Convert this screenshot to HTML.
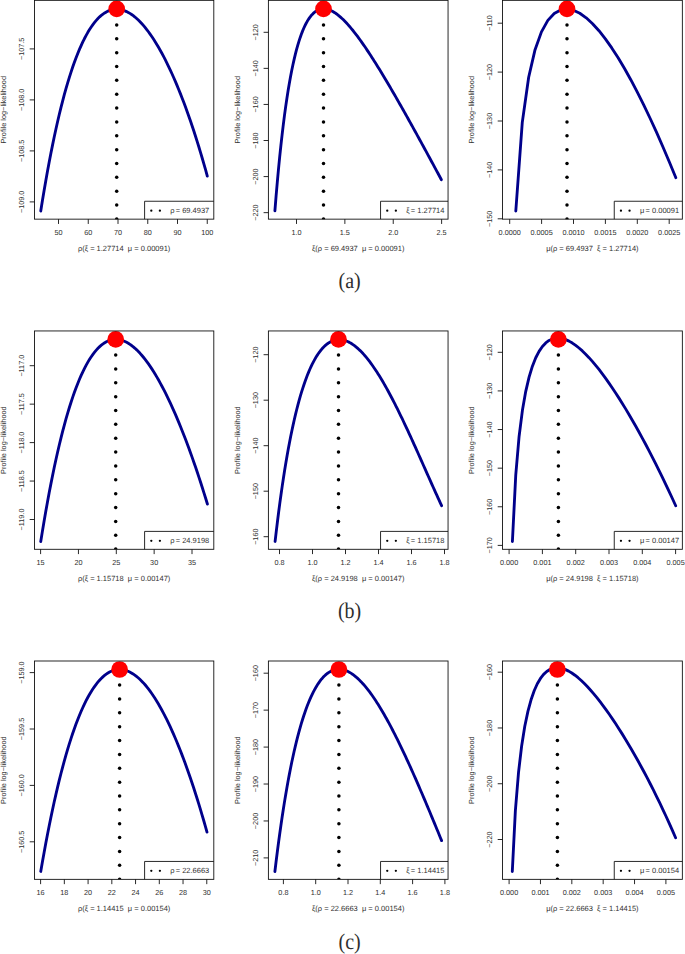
<!DOCTYPE html>
<html><head><meta charset="utf-8"><title>Profile log-likelihood</title>
<style>
html,body{margin:0;padding:0;background:#fff;}
body{width:685px;height:954px;overflow:hidden;font-family:"Liberation Sans",sans-serif;}
svg{display:block;}
.ax{stroke:#111;stroke-width:0.9;fill:none;}
.t{font-family:"Liberation Sans",sans-serif;font-size:7.5px;fill:#303030;text-rendering:geometricPrecision;}
.k{font-size:7.25px;}
.cap{font-family:"Liberation Serif",serif;font-size:20px;fill:#2e2e2e;text-rendering:geometricPrecision;}
.cv{stroke:#00008b;stroke-width:2.85;fill:none;stroke-linecap:round;stroke-linejoin:round;}
</style></head><body>
<svg width="685" height="954" viewBox="0 0 685 954">
<rect x="0" y="0" width="685" height="954" fill="#fff"/>

<g>
<path class="cv" d="M40.75 211.01 L42.43 200.56 L44.11 190.46 L45.80 180.71 L47.48 171.31 L49.16 162.25 L50.84 153.51 L52.53 145.10 L54.21 137.00 L55.89 129.21 L57.57 121.73 L59.26 114.54 L60.94 107.65 L62.62 101.04 L64.30 94.71 L65.98 88.66 L67.67 82.87 L69.35 77.35 L71.03 72.08 L72.71 67.06 L74.40 62.29 L76.08 57.76 L77.76 53.46 L79.44 49.40 L81.13 45.56 L82.81 41.94 L84.49 38.53 L86.17 35.34 L87.86 32.35 L89.54 29.57 L91.22 26.98 L92.90 24.59 L94.58 22.38 L96.27 20.36 L97.95 18.52 L99.63 16.86 L101.31 15.37 L103.00 14.06 L104.68 12.90 L106.36 11.91 L108.04 11.08 L109.73 10.41 L111.41 9.88 L113.09 9.51 L114.77 9.28 L116.45 9.20 L118.14 9.26 L119.82 9.45 L121.50 9.79 L123.18 10.25 L124.87 10.84 L126.55 11.57 L128.23 12.42 L129.91 13.39 L131.60 14.48 L133.28 15.70 L134.96 17.03 L136.64 18.48 L138.32 20.04 L140.01 21.72 L141.69 23.51 L143.37 25.41 L145.05 27.41 L146.74 29.53 L148.42 31.75 L150.10 34.08 L151.78 36.52 L153.47 39.05 L155.15 41.70 L156.83 44.44 L158.51 47.29 L160.19 50.24 L161.88 53.29 L163.56 56.45 L165.24 59.70 L166.92 63.06 L168.61 66.52 L170.29 70.08 L171.97 73.75 L173.65 77.52 L175.34 81.39 L177.02 85.37 L178.70 89.45 L180.38 93.63 L182.07 97.93 L183.75 102.33 L185.43 106.84 L187.11 111.46 L188.79 116.19 L190.48 121.03 L192.16 125.99 L193.84 131.06 L195.52 136.26 L197.21 141.57 L198.89 147.00 L200.57 152.55 L202.25 158.23 L203.94 164.04 L205.62 169.98 L207.30 176.05"/>
<clipPath id="c00"><rect x="34.50" y="0.35" width="179.30" height="218.80"/></clipPath><g clip-path="url(#c00)">
<circle cx="116.70" cy="218.95" r="1.75" fill="#000"/>
<circle cx="116.70" cy="205.09" r="1.75" fill="#000"/>
<circle cx="116.70" cy="191.23" r="1.75" fill="#000"/>
<circle cx="116.70" cy="177.37" r="1.75" fill="#000"/>
<circle cx="116.70" cy="163.51" r="1.75" fill="#000"/>
<circle cx="116.70" cy="149.65" r="1.75" fill="#000"/>
<circle cx="116.70" cy="135.79" r="1.75" fill="#000"/>
<circle cx="116.70" cy="121.93" r="1.75" fill="#000"/>
<circle cx="116.70" cy="108.07" r="1.75" fill="#000"/>
<circle cx="116.70" cy="94.21" r="1.75" fill="#000"/>
<circle cx="116.70" cy="80.35" r="1.75" fill="#000"/>
<circle cx="116.70" cy="66.49" r="1.75" fill="#000"/>
<circle cx="116.70" cy="52.63" r="1.75" fill="#000"/>
<circle cx="116.70" cy="38.77" r="1.75" fill="#000"/>
<circle cx="116.70" cy="24.91" r="1.75" fill="#000"/>
</g>
<circle cx="116.70" cy="8.85" r="8.35" fill="#ff0000"/>
<rect x="144.60" y="201.25" width="69.20" height="17.90" fill="#fff"/>
<path class="ax" d="M144.60 219.15 V201.25 H213.80"/>
<circle cx="151.30" cy="210.65" r="1.15" fill="#000"/><circle cx="159.90" cy="210.65" r="1.15" fill="#000"/>
<text class="t" x="209.30" y="212.50" text-anchor="end"><tspan>ρ</tspan><tspan dx="1.3">= 69.4937</tspan></text>
<rect class="ax" x="34.50" y="0.35" width="179.30" height="218.80"/>
<path class="ax" d="M58.50 219.15 v4.8"/>
<text class="t k" x="58.50" y="235.15" text-anchor="middle">50</text>
<path class="ax" d="M88.25 219.15 v4.8"/>
<text class="t k" x="88.25" y="235.15" text-anchor="middle">60</text>
<path class="ax" d="M118.00 219.15 v4.8"/>
<text class="t k" x="118.00" y="235.15" text-anchor="middle">70</text>
<path class="ax" d="M147.75 219.15 v4.8"/>
<text class="t k" x="147.75" y="235.15" text-anchor="middle">80</text>
<path class="ax" d="M177.50 219.15 v4.8"/>
<text class="t k" x="177.50" y="235.15" text-anchor="middle">90</text>
<path class="ax" d="M207.25 219.15 v4.8"/>
<text class="t k" x="207.25" y="235.15" text-anchor="middle">100</text>
<path class="ax" d="M34.50 48.90 h-4.8"/>
<text class="t k" transform="translate(24.10 48.90) rotate(-90)" text-anchor="middle">−107.5</text>
<path class="ax" d="M34.50 99.90 h-4.8"/>
<text class="t k" transform="translate(24.10 99.90) rotate(-90)" text-anchor="middle">−108.0</text>
<path class="ax" d="M34.50 150.90 h-4.8"/>
<text class="t k" transform="translate(24.10 150.90) rotate(-90)" text-anchor="middle">−108.5</text>
<path class="ax" d="M34.50 201.90 h-4.8"/>
<text class="t k" transform="translate(24.10 201.90) rotate(-90)" text-anchor="middle">−109.0</text>
<text class="t" x="124.15" y="251.15" text-anchor="middle" xml:space="preserve">ρ(ξ = 1.27714  μ = 0.00091)</text>
<text class="t" style="font-size:7.35px" transform="translate(6.20 109.75) rotate(-90)" text-anchor="middle">Profile log−likelihood</text>
</g>
<g>
<path class="cv" d="M274.90 210.76 L276.10 195.96 L277.30 182.10 L278.49 169.10 L279.69 156.92 L280.89 145.51 L282.09 134.82 L283.28 124.81 L284.48 115.44 L285.68 106.68 L286.88 98.49 L288.08 90.83 L289.27 83.67 L290.47 77.00 L291.67 70.77 L292.87 64.97 L294.07 59.58 L295.26 54.56 L296.46 49.91 L297.66 45.59 L298.86 41.60 L300.05 37.91 L301.25 34.51 L302.45 31.38 L303.65 28.52 L304.85 25.90 L306.04 23.51 L307.24 21.34 L308.44 19.38 L309.64 17.62 L310.84 16.05 L312.03 14.66 L313.23 13.44 L314.43 12.38 L315.63 11.47 L316.82 10.71 L318.02 10.09 L319.22 9.60 L320.42 9.24 L321.62 8.99 L322.81 8.86 L324.01 8.84 L325.21 8.92 L326.41 9.09 L327.61 9.36 L328.80 9.72 L330.00 10.16 L331.20 10.68 L332.40 11.28 L333.59 11.95 L334.79 12.69 L335.99 13.50 L337.19 14.37 L338.39 15.30 L339.58 16.29 L340.78 17.33 L341.98 18.43 L343.18 19.57 L344.37 20.76 L345.57 22.00 L346.77 23.28 L347.97 24.60 L349.17 25.97 L350.36 27.37 L351.56 28.80 L352.76 30.27 L353.96 31.77 L355.16 33.31 L356.35 34.87 L357.55 36.46 L358.75 38.08 L359.95 39.73 L361.14 41.40 L362.34 43.09 L363.54 44.81 L364.74 46.55 L365.94 48.31 L367.13 50.10 L368.33 51.90 L369.53 53.72 L370.73 55.55 L371.93 57.41 L373.12 59.28 L374.32 61.16 L375.52 63.06 L376.72 64.98 L377.91 66.91 L379.11 68.85 L380.31 70.80 L381.51 72.77 L382.71 74.75 L383.90 76.74 L385.10 78.74 L386.30 80.75 L387.50 82.77 L388.69 84.80 L389.89 86.84 L391.09 88.88 L392.29 90.94 L393.49 93.01 L394.68 95.08 L395.88 97.16 L397.08 99.24 L398.28 101.34 L399.48 103.44 L400.67 105.55 L401.87 107.66 L403.07 109.78 L404.27 111.91 L405.46 114.04 L406.66 116.17 L407.86 118.31 L409.06 120.46 L410.26 122.61 L411.45 124.77 L412.65 126.93 L413.85 129.09 L415.05 131.26 L416.25 133.43 L417.44 135.61 L418.64 137.79 L419.84 139.97 L421.04 142.16 L422.23 144.35 L423.43 146.54 L424.63 148.74 L425.83 150.93 L427.03 153.14 L428.22 155.34 L429.42 157.55 L430.62 159.75 L431.82 161.96 L433.02 164.18 L434.21 166.39 L435.41 168.61 L436.61 170.83 L437.81 173.05 L439.00 175.27 L440.20 177.49 L441.40 179.71"/>
<clipPath id="c01"><rect x="268.40" y="0.35" width="179.65" height="218.80"/></clipPath><g clip-path="url(#c01)">
<circle cx="323.50" cy="218.95" r="1.75" fill="#000"/>
<circle cx="323.50" cy="205.09" r="1.75" fill="#000"/>
<circle cx="323.50" cy="191.23" r="1.75" fill="#000"/>
<circle cx="323.50" cy="177.37" r="1.75" fill="#000"/>
<circle cx="323.50" cy="163.51" r="1.75" fill="#000"/>
<circle cx="323.50" cy="149.65" r="1.75" fill="#000"/>
<circle cx="323.50" cy="135.79" r="1.75" fill="#000"/>
<circle cx="323.50" cy="121.93" r="1.75" fill="#000"/>
<circle cx="323.50" cy="108.07" r="1.75" fill="#000"/>
<circle cx="323.50" cy="94.21" r="1.75" fill="#000"/>
<circle cx="323.50" cy="80.35" r="1.75" fill="#000"/>
<circle cx="323.50" cy="66.49" r="1.75" fill="#000"/>
<circle cx="323.50" cy="52.63" r="1.75" fill="#000"/>
<circle cx="323.50" cy="38.77" r="1.75" fill="#000"/>
<circle cx="323.50" cy="24.91" r="1.75" fill="#000"/>
</g>
<circle cx="323.50" cy="8.85" r="8.35" fill="#ff0000"/>
<rect x="380.55" y="201.25" width="67.50" height="17.90" fill="#fff"/>
<path class="ax" d="M380.55 219.15 V201.25 H448.05"/>
<circle cx="387.25" cy="210.65" r="1.15" fill="#000"/><circle cx="395.85" cy="210.65" r="1.15" fill="#000"/>
<text class="t" x="444.45" y="212.50" text-anchor="end"><tspan>ξ</tspan><tspan dx="1.3">= 1.27714</tspan></text>
<rect class="ax" x="268.40" y="0.35" width="179.65" height="218.80"/>
<path class="ax" d="M296.50 219.15 v4.8"/>
<text class="t k" x="296.50" y="235.15" text-anchor="middle">1.0</text>
<path class="ax" d="M344.87 219.15 v4.8"/>
<text class="t k" x="344.87" y="235.15" text-anchor="middle">1.5</text>
<path class="ax" d="M393.24 219.15 v4.8"/>
<text class="t k" x="393.24" y="235.15" text-anchor="middle">2.0</text>
<path class="ax" d="M441.61 219.15 v4.8"/>
<text class="t k" x="441.61" y="235.15" text-anchor="middle">2.5</text>
<path class="ax" d="M268.40 32.30 h-4.8"/>
<text class="t k" transform="translate(258.00 32.30) rotate(-90)" text-anchor="middle">−120</text>
<path class="ax" d="M268.40 68.37 h-4.8"/>
<text class="t k" transform="translate(258.00 68.37) rotate(-90)" text-anchor="middle">−140</text>
<path class="ax" d="M268.40 104.44 h-4.8"/>
<text class="t k" transform="translate(258.00 104.44) rotate(-90)" text-anchor="middle">−160</text>
<path class="ax" d="M268.40 140.51 h-4.8"/>
<text class="t k" transform="translate(258.00 140.51) rotate(-90)" text-anchor="middle">−180</text>
<path class="ax" d="M268.40 176.58 h-4.8"/>
<text class="t k" transform="translate(258.00 176.58) rotate(-90)" text-anchor="middle">−200</text>
<path class="ax" d="M268.40 212.65 h-4.8"/>
<text class="t k" transform="translate(258.00 212.65) rotate(-90)" text-anchor="middle">−220</text>
<text class="t" x="358.22" y="251.15" text-anchor="middle" xml:space="preserve">ξ(ρ = 69.4937  μ = 0.00091)</text>
<text class="t" style="font-size:7.35px" transform="translate(240.10 109.75) rotate(-90)" text-anchor="middle">Profile log−likelihood</text>
</g>
<g>
<path class="cv" d="M515.80 210.99 L522.28 122.36 L528.67 77.26 L535.06 49.66 L541.45 31.86 L547.84 20.41 L554.23 13.46 L560.62 9.89 L567.01 8.97 L573.40 10.20 L579.79 13.23 L586.18 17.79 L592.57 23.68 L598.96 30.74 L605.35 38.85 L611.74 47.90 L618.13 57.81 L624.52 68.52 L630.91 79.96 L637.30 92.09 L643.69 104.86 L650.08 118.24 L656.47 132.20 L662.86 146.70 L669.25 161.74 L675.85 177.79"/>
<clipPath id="c02"><rect x="502.50" y="0.35" width="179.85" height="218.80"/></clipPath><g clip-path="url(#c02)">
<circle cx="567.00" cy="218.95" r="1.75" fill="#000"/>
<circle cx="567.00" cy="205.09" r="1.75" fill="#000"/>
<circle cx="567.00" cy="191.23" r="1.75" fill="#000"/>
<circle cx="567.00" cy="177.37" r="1.75" fill="#000"/>
<circle cx="567.00" cy="163.51" r="1.75" fill="#000"/>
<circle cx="567.00" cy="149.65" r="1.75" fill="#000"/>
<circle cx="567.00" cy="135.79" r="1.75" fill="#000"/>
<circle cx="567.00" cy="121.93" r="1.75" fill="#000"/>
<circle cx="567.00" cy="108.07" r="1.75" fill="#000"/>
<circle cx="567.00" cy="94.21" r="1.75" fill="#000"/>
<circle cx="567.00" cy="80.35" r="1.75" fill="#000"/>
<circle cx="567.00" cy="66.49" r="1.75" fill="#000"/>
<circle cx="567.00" cy="52.63" r="1.75" fill="#000"/>
<circle cx="567.00" cy="38.77" r="1.75" fill="#000"/>
<circle cx="567.00" cy="24.91" r="1.75" fill="#000"/>
</g>
<circle cx="567.00" cy="8.85" r="8.35" fill="#ff0000"/>
<rect x="614.25" y="201.25" width="68.10" height="17.90" fill="#fff"/>
<path class="ax" d="M614.25 219.15 V201.25 H682.35"/>
<circle cx="620.95" cy="210.65" r="1.15" fill="#000"/><circle cx="629.55" cy="210.65" r="1.15" fill="#000"/>
<text class="t" x="679.15" y="212.50" text-anchor="end"><tspan>μ</tspan><tspan dx="1.3">= 0.00091</tspan></text>
<rect class="ax" x="502.50" y="0.35" width="179.85" height="218.80"/>
<path class="ax" d="M509.70 219.15 v4.8"/>
<text class="t k" x="509.70" y="235.15" text-anchor="middle">0.0000</text>
<path class="ax" d="M541.60 219.15 v4.8"/>
<text class="t k" x="541.60" y="235.15" text-anchor="middle">0.0005</text>
<path class="ax" d="M573.50 219.15 v4.8"/>
<text class="t k" x="573.50" y="235.15" text-anchor="middle">0.0010</text>
<path class="ax" d="M605.40 219.15 v4.8"/>
<text class="t k" x="605.40" y="235.15" text-anchor="middle">0.0015</text>
<path class="ax" d="M637.30 219.15 v4.8"/>
<text class="t k" x="637.30" y="235.15" text-anchor="middle">0.0020</text>
<path class="ax" d="M669.20 219.15 v4.8"/>
<text class="t k" x="669.20" y="235.15" text-anchor="middle">0.0025</text>
<path class="ax" d="M502.50 23.20 h-4.8"/>
<text class="t k" transform="translate(492.10 23.20) rotate(-90)" text-anchor="middle">−110</text>
<path class="ax" d="M502.50 72.10 h-4.8"/>
<text class="t k" transform="translate(492.10 72.10) rotate(-90)" text-anchor="middle">−120</text>
<path class="ax" d="M502.50 121.00 h-4.8"/>
<text class="t k" transform="translate(492.10 121.00) rotate(-90)" text-anchor="middle">−130</text>
<path class="ax" d="M502.50 169.90 h-4.8"/>
<text class="t k" transform="translate(492.10 169.90) rotate(-90)" text-anchor="middle">−140</text>
<path class="ax" d="M502.50 218.80 h-4.8"/>
<text class="t k" transform="translate(492.10 218.80) rotate(-90)" text-anchor="middle">−150</text>
<text class="t" x="592.42" y="251.15" text-anchor="middle" xml:space="preserve">μ(ρ = 69.4937  ξ = 1.27714)</text>
<text class="t" style="font-size:7.35px" transform="translate(474.20 109.75) rotate(-90)" text-anchor="middle">Profile log−likelihood</text>
</g>
<g>
<path class="cv" d="M40.75 541.54 L42.43 531.12 L44.12 521.05 L45.80 511.32 L47.48 501.92 L49.17 492.86 L50.85 484.11 L52.53 475.68 L54.22 467.56 L55.90 459.74 L57.58 452.23 L59.27 445.00 L60.95 438.07 L62.63 431.42 L64.32 425.04 L66.00 418.94 L67.68 413.10 L69.37 407.53 L71.05 402.21 L72.73 397.15 L74.42 392.33 L76.10 387.75 L77.78 383.42 L79.47 379.31 L81.15 375.43 L82.83 371.78 L84.52 368.35 L86.20 365.13 L87.88 362.12 L89.57 359.32 L91.25 356.72 L92.93 354.32 L94.62 352.11 L96.30 350.10 L97.98 348.27 L99.67 346.62 L101.35 345.15 L103.03 343.86 L104.72 342.74 L106.40 341.78 L108.08 340.99 L109.77 340.37 L111.45 339.90 L113.13 339.59 L114.82 339.43 L116.50 339.41 L118.18 339.55 L119.87 339.82 L121.55 340.24 L123.23 340.79 L124.92 341.48 L126.60 342.30 L128.28 343.25 L129.97 344.33 L131.65 345.53 L133.33 346.86 L135.02 348.30 L136.70 349.86 L138.38 351.54 L140.07 353.33 L141.75 355.24 L143.43 357.25 L145.12 359.37 L146.80 361.60 L148.48 363.94 L150.17 366.37 L151.85 368.91 L153.53 371.55 L155.22 374.28 L156.90 377.12 L158.58 380.05 L160.27 383.08 L161.95 386.20 L163.63 389.41 L165.32 392.71 L167.00 396.11 L168.68 399.60 L170.37 403.17 L172.05 406.84 L173.73 410.59 L175.42 414.44 L177.10 418.37 L178.78 422.38 L180.47 426.49 L182.15 430.68 L183.83 434.96 L185.52 439.32 L187.20 443.77 L188.88 448.31 L190.57 452.93 L192.25 457.64 L193.93 462.44 L195.62 467.33 L197.30 472.30 L198.98 477.36 L200.67 482.52 L202.35 487.76 L204.03 493.09 L205.72 498.52 L207.40 504.03"/>
<clipPath id="c10"><rect x="34.50" y="330.95" width="179.30" height="218.35"/></clipPath><g clip-path="url(#c10)">
<circle cx="115.70" cy="549.10" r="1.75" fill="#000"/>
<circle cx="115.70" cy="535.24" r="1.75" fill="#000"/>
<circle cx="115.70" cy="521.38" r="1.75" fill="#000"/>
<circle cx="115.70" cy="507.52" r="1.75" fill="#000"/>
<circle cx="115.70" cy="493.66" r="1.75" fill="#000"/>
<circle cx="115.70" cy="479.80" r="1.75" fill="#000"/>
<circle cx="115.70" cy="465.94" r="1.75" fill="#000"/>
<circle cx="115.70" cy="452.08" r="1.75" fill="#000"/>
<circle cx="115.70" cy="438.22" r="1.75" fill="#000"/>
<circle cx="115.70" cy="424.36" r="1.75" fill="#000"/>
<circle cx="115.70" cy="410.50" r="1.75" fill="#000"/>
<circle cx="115.70" cy="396.64" r="1.75" fill="#000"/>
<circle cx="115.70" cy="382.78" r="1.75" fill="#000"/>
<circle cx="115.70" cy="368.92" r="1.75" fill="#000"/>
<circle cx="115.70" cy="355.06" r="1.75" fill="#000"/>
</g>
<circle cx="115.70" cy="339.45" r="8.35" fill="#ff0000"/>
<rect x="144.60" y="531.40" width="69.20" height="17.90" fill="#fff"/>
<path class="ax" d="M144.60 549.30 V531.40 H213.80"/>
<circle cx="151.30" cy="540.80" r="1.15" fill="#000"/><circle cx="159.90" cy="540.80" r="1.15" fill="#000"/>
<text class="t" x="209.30" y="542.65" text-anchor="end"><tspan>ρ</tspan><tspan dx="1.3">= 24.9198</tspan></text>
<rect class="ax" x="34.50" y="330.95" width="179.30" height="218.35"/>
<path class="ax" d="M40.60 549.30 v4.8"/>
<text class="t k" x="40.60" y="565.30" text-anchor="middle">15</text>
<path class="ax" d="M78.45 549.30 v4.8"/>
<text class="t k" x="78.45" y="565.30" text-anchor="middle">20</text>
<path class="ax" d="M116.30 549.30 v4.8"/>
<text class="t k" x="116.30" y="565.30" text-anchor="middle">25</text>
<path class="ax" d="M154.15 549.30 v4.8"/>
<text class="t k" x="154.15" y="565.30" text-anchor="middle">30</text>
<path class="ax" d="M192.00 549.30 v4.8"/>
<text class="t k" x="192.00" y="565.30" text-anchor="middle">35</text>
<path class="ax" d="M34.50 365.70 h-4.8"/>
<text class="t k" transform="translate(24.10 365.70) rotate(-90)" text-anchor="middle">−117.0</text>
<path class="ax" d="M34.50 404.15 h-4.8"/>
<text class="t k" transform="translate(24.10 404.15) rotate(-90)" text-anchor="middle">−117.5</text>
<path class="ax" d="M34.50 442.60 h-4.8"/>
<text class="t k" transform="translate(24.10 442.60) rotate(-90)" text-anchor="middle">−118.0</text>
<path class="ax" d="M34.50 481.05 h-4.8"/>
<text class="t k" transform="translate(24.10 481.05) rotate(-90)" text-anchor="middle">−118.5</text>
<path class="ax" d="M34.50 519.50 h-4.8"/>
<text class="t k" transform="translate(24.10 519.50) rotate(-90)" text-anchor="middle">−119.0</text>
<text class="t" x="124.15" y="581.30" text-anchor="middle" xml:space="preserve">ρ(ξ = 1.15718  μ = 0.00147)</text>
<text class="t" style="font-size:7.35px" transform="translate(6.20 440.12) rotate(-90)" text-anchor="middle">Profile log−likelihood</text>
</g>
<g>
<path class="cv" d="M275.10 541.45 L276.30 531.12 L277.50 521.22 L278.69 511.74 L279.89 502.66 L281.09 493.96 L282.29 485.64 L283.48 477.67 L284.68 470.04 L285.88 462.73 L287.08 455.74 L288.28 449.06 L289.47 442.66 L290.67 436.54 L291.87 430.69 L293.07 425.09 L294.27 419.75 L295.46 414.65 L296.66 409.77 L297.86 405.12 L299.06 400.69 L300.25 396.46 L301.45 392.43 L302.65 388.60 L303.85 384.95 L305.05 381.48 L306.24 378.19 L307.44 375.07 L308.64 372.11 L309.84 369.31 L311.04 366.67 L312.23 364.17 L313.43 361.82 L314.63 359.61 L315.83 357.53 L317.02 355.59 L318.22 353.78 L319.42 352.09 L320.62 350.52 L321.82 349.07 L323.01 347.74 L324.21 346.51 L325.41 345.40 L326.61 344.39 L327.81 343.49 L329.00 342.69 L330.20 341.98 L331.40 341.37 L332.60 340.86 L333.79 340.44 L334.99 340.10 L336.19 339.86 L337.39 339.70 L338.59 339.62 L339.78 339.62 L340.98 339.71 L342.18 339.87 L343.38 340.11 L344.57 340.42 L345.77 340.80 L346.97 341.26 L348.17 341.79 L349.37 342.38 L350.56 343.05 L351.76 343.77 L352.96 344.57 L354.16 345.42 L355.36 346.34 L356.55 347.32 L357.75 348.35 L358.95 349.45 L360.15 350.60 L361.34 351.81 L362.54 353.07 L363.74 354.39 L364.94 355.75 L366.14 357.17 L367.33 358.64 L368.53 360.16 L369.73 361.73 L370.93 363.34 L372.13 365.00 L373.32 366.70 L374.52 368.45 L375.72 370.24 L376.92 372.07 L378.11 373.95 L379.31 375.86 L380.51 377.81 L381.71 379.80 L382.91 381.83 L384.10 383.89 L385.30 385.99 L386.50 388.12 L387.70 390.29 L388.89 392.49 L390.09 394.71 L391.29 396.97 L392.49 399.26 L393.69 401.58 L394.88 403.92 L396.08 406.29 L397.28 408.68 L398.48 411.10 L399.68 413.54 L400.87 416.01 L402.07 418.49 L403.27 421.00 L404.47 423.52 L405.66 426.07 L406.86 428.63 L408.06 431.21 L409.26 433.80 L410.46 436.41 L411.65 439.03 L412.85 441.66 L414.05 444.30 L415.25 446.95 L416.45 449.62 L417.64 452.29 L418.84 454.96 L420.04 457.65 L421.24 460.33 L422.43 463.03 L423.63 465.72 L424.83 468.42 L426.03 471.11 L427.23 473.81 L428.42 476.50 L429.62 479.19 L430.82 481.87 L432.02 484.56 L433.22 487.23 L434.41 489.90 L435.61 492.55 L436.81 495.20 L438.01 497.84 L439.20 500.46 L440.40 503.07 L441.60 505.67"/>
<clipPath id="c11"><rect x="268.40" y="330.95" width="179.65" height="218.35"/></clipPath><g clip-path="url(#c11)">
<circle cx="338.50" cy="549.10" r="1.75" fill="#000"/>
<circle cx="338.50" cy="535.24" r="1.75" fill="#000"/>
<circle cx="338.50" cy="521.38" r="1.75" fill="#000"/>
<circle cx="338.50" cy="507.52" r="1.75" fill="#000"/>
<circle cx="338.50" cy="493.66" r="1.75" fill="#000"/>
<circle cx="338.50" cy="479.80" r="1.75" fill="#000"/>
<circle cx="338.50" cy="465.94" r="1.75" fill="#000"/>
<circle cx="338.50" cy="452.08" r="1.75" fill="#000"/>
<circle cx="338.50" cy="438.22" r="1.75" fill="#000"/>
<circle cx="338.50" cy="424.36" r="1.75" fill="#000"/>
<circle cx="338.50" cy="410.50" r="1.75" fill="#000"/>
<circle cx="338.50" cy="396.64" r="1.75" fill="#000"/>
<circle cx="338.50" cy="382.78" r="1.75" fill="#000"/>
<circle cx="338.50" cy="368.92" r="1.75" fill="#000"/>
<circle cx="338.50" cy="355.06" r="1.75" fill="#000"/>
</g>
<circle cx="338.50" cy="339.45" r="8.35" fill="#ff0000"/>
<rect x="380.55" y="531.40" width="67.50" height="17.90" fill="#fff"/>
<path class="ax" d="M380.55 549.30 V531.40 H448.05"/>
<circle cx="387.25" cy="540.80" r="1.15" fill="#000"/><circle cx="395.85" cy="540.80" r="1.15" fill="#000"/>
<text class="t" x="444.45" y="542.65" text-anchor="end"><tspan>ξ</tspan><tspan dx="1.3">= 1.15718</tspan></text>
<rect class="ax" x="268.40" y="330.95" width="179.65" height="218.35"/>
<path class="ax" d="M279.50 549.30 v4.8"/>
<text class="t k" x="279.50" y="565.30" text-anchor="middle">0.8</text>
<path class="ax" d="M312.50 549.30 v4.8"/>
<text class="t k" x="312.50" y="565.30" text-anchor="middle">1.0</text>
<path class="ax" d="M345.50 549.30 v4.8"/>
<text class="t k" x="345.50" y="565.30" text-anchor="middle">1.2</text>
<path class="ax" d="M378.50 549.30 v4.8"/>
<text class="t k" x="378.50" y="565.30" text-anchor="middle">1.4</text>
<path class="ax" d="M411.50 549.30 v4.8"/>
<text class="t k" x="411.50" y="565.30" text-anchor="middle">1.6</text>
<path class="ax" d="M444.50 549.30 v4.8"/>
<text class="t k" x="444.50" y="565.30" text-anchor="middle">1.8</text>
<path class="ax" d="M268.40 354.70 h-4.8"/>
<text class="t k" transform="translate(258.00 354.70) rotate(-90)" text-anchor="middle">−120</text>
<path class="ax" d="M268.40 400.20 h-4.8"/>
<text class="t k" transform="translate(258.00 400.20) rotate(-90)" text-anchor="middle">−130</text>
<path class="ax" d="M268.40 445.70 h-4.8"/>
<text class="t k" transform="translate(258.00 445.70) rotate(-90)" text-anchor="middle">−140</text>
<path class="ax" d="M268.40 491.20 h-4.8"/>
<text class="t k" transform="translate(258.00 491.20) rotate(-90)" text-anchor="middle">−150</text>
<path class="ax" d="M268.40 536.70 h-4.8"/>
<text class="t k" transform="translate(258.00 536.70) rotate(-90)" text-anchor="middle">−160</text>
<text class="t" x="358.22" y="581.30" text-anchor="middle" xml:space="preserve">ξ(ρ = 24.9198  μ = 0.00147)</text>
<text class="t" style="font-size:7.35px" transform="translate(240.10 440.12) rotate(-90)" text-anchor="middle">Profile log−likelihood</text>
</g>
<g>
<path class="cv" d="M512.40 541.53 L515.76 474.84 L519.09 436.47 L522.42 410.36 L525.75 391.37 L529.08 377.08 L532.41 366.16 L535.74 357.76 L539.07 351.33 L542.40 346.48 L545.73 342.93 L549.06 340.46 L552.39 338.92 L555.72 338.15 L559.05 338.07 L562.38 338.59 L565.71 339.63 L569.04 341.14 L572.37 343.06 L575.70 345.36 L579.03 348.00 L582.36 350.94 L585.69 354.17 L589.02 357.66 L592.35 361.38 L595.68 365.33 L599.01 369.48 L602.34 373.83 L605.67 378.36 L609.00 383.06 L612.33 387.93 L615.66 392.95 L618.99 398.11 L622.32 403.43 L625.65 408.88 L628.98 414.46 L632.31 420.17 L635.64 426.01 L638.97 431.98 L642.30 438.07 L645.63 444.28 L648.96 450.61 L652.29 457.05 L655.62 463.62 L658.95 470.31 L662.28 477.11 L665.61 484.03 L668.94 491.07 L672.27 498.23 L675.70 505.73"/>
<clipPath id="c12"><rect x="502.50" y="330.95" width="179.85" height="218.35"/></clipPath><g clip-path="url(#c12)">
<circle cx="558.40" cy="549.10" r="1.75" fill="#000"/>
<circle cx="558.40" cy="535.24" r="1.75" fill="#000"/>
<circle cx="558.40" cy="521.38" r="1.75" fill="#000"/>
<circle cx="558.40" cy="507.52" r="1.75" fill="#000"/>
<circle cx="558.40" cy="493.66" r="1.75" fill="#000"/>
<circle cx="558.40" cy="479.80" r="1.75" fill="#000"/>
<circle cx="558.40" cy="465.94" r="1.75" fill="#000"/>
<circle cx="558.40" cy="452.08" r="1.75" fill="#000"/>
<circle cx="558.40" cy="438.22" r="1.75" fill="#000"/>
<circle cx="558.40" cy="424.36" r="1.75" fill="#000"/>
<circle cx="558.40" cy="410.50" r="1.75" fill="#000"/>
<circle cx="558.40" cy="396.64" r="1.75" fill="#000"/>
<circle cx="558.40" cy="382.78" r="1.75" fill="#000"/>
<circle cx="558.40" cy="368.92" r="1.75" fill="#000"/>
<circle cx="558.40" cy="355.06" r="1.75" fill="#000"/>
</g>
<circle cx="558.40" cy="339.45" r="8.35" fill="#ff0000"/>
<rect x="614.25" y="531.40" width="68.10" height="17.90" fill="#fff"/>
<path class="ax" d="M614.25 549.30 V531.40 H682.35"/>
<circle cx="620.95" cy="540.80" r="1.15" fill="#000"/><circle cx="629.55" cy="540.80" r="1.15" fill="#000"/>
<text class="t" x="679.15" y="542.65" text-anchor="end"><tspan>μ</tspan><tspan dx="1.3">= 0.00147</tspan></text>
<rect class="ax" x="502.50" y="330.95" width="179.85" height="218.35"/>
<path class="ax" d="M509.10 549.30 v4.8"/>
<text class="t k" x="509.10" y="565.30" text-anchor="middle">0.000</text>
<path class="ax" d="M542.40 549.30 v4.8"/>
<text class="t k" x="542.40" y="565.30" text-anchor="middle">0.001</text>
<path class="ax" d="M575.70 549.30 v4.8"/>
<text class="t k" x="575.70" y="565.30" text-anchor="middle">0.002</text>
<path class="ax" d="M609.00 549.30 v4.8"/>
<text class="t k" x="609.00" y="565.30" text-anchor="middle">0.003</text>
<path class="ax" d="M642.30 549.30 v4.8"/>
<text class="t k" x="642.30" y="565.30" text-anchor="middle">0.004</text>
<path class="ax" d="M675.60 549.30 v4.8"/>
<text class="t k" x="675.60" y="565.30" text-anchor="middle">0.005</text>
<path class="ax" d="M502.50 352.30 h-4.8"/>
<text class="t k" transform="translate(492.10 352.30) rotate(-90)" text-anchor="middle">−120</text>
<path class="ax" d="M502.50 390.92 h-4.8"/>
<text class="t k" transform="translate(492.10 390.92) rotate(-90)" text-anchor="middle">−130</text>
<path class="ax" d="M502.50 429.54 h-4.8"/>
<text class="t k" transform="translate(492.10 429.54) rotate(-90)" text-anchor="middle">−140</text>
<path class="ax" d="M502.50 468.16 h-4.8"/>
<text class="t k" transform="translate(492.10 468.16) rotate(-90)" text-anchor="middle">−150</text>
<path class="ax" d="M502.50 506.78 h-4.8"/>
<text class="t k" transform="translate(492.10 506.78) rotate(-90)" text-anchor="middle">−160</text>
<path class="ax" d="M502.50 545.40 h-4.8"/>
<text class="t k" transform="translate(492.10 545.40) rotate(-90)" text-anchor="middle">−170</text>
<text class="t" x="592.42" y="581.30" text-anchor="middle" xml:space="preserve">μ(ρ = 24.9198  ξ = 1.15718)</text>
<text class="t" style="font-size:7.35px" transform="translate(474.20 440.12) rotate(-90)" text-anchor="middle">Profile log−likelihood</text>
</g>
<g>
<path class="cv" d="M40.75 871.45 L42.43 861.78 L44.11 852.41 L45.79 843.32 L47.47 834.51 L49.15 825.98 L50.83 817.73 L52.51 809.75 L54.18 802.03 L55.86 794.58 L57.54 787.38 L59.22 780.44 L60.90 773.75 L62.58 767.30 L64.26 761.10 L65.94 755.13 L67.62 749.39 L69.30 743.89 L70.98 738.61 L72.66 733.56 L74.34 728.72 L76.02 724.10 L77.69 719.70 L79.37 715.50 L81.05 711.51 L82.73 707.71 L84.41 704.12 L86.09 700.73 L87.77 697.52 L89.45 694.51 L91.13 691.68 L92.81 689.04 L94.49 686.58 L96.17 684.29 L97.85 682.18 L99.53 680.24 L101.20 678.48 L102.88 676.87 L104.56 675.44 L106.24 674.16 L107.92 673.05 L109.60 672.09 L111.28 671.28 L112.96 670.63 L114.64 670.13 L116.32 669.77 L118.00 669.56 L119.68 669.50 L121.36 669.58 L123.04 669.79 L124.71 670.15 L126.39 670.64 L128.07 671.26 L129.75 672.02 L131.43 672.91 L133.11 673.93 L134.79 675.07 L136.47 676.34 L138.15 677.74 L139.83 679.26 L141.51 680.90 L143.19 682.66 L144.87 684.54 L146.55 686.54 L148.22 688.66 L149.90 690.89 L151.58 693.24 L153.26 695.70 L154.94 698.27 L156.62 700.96 L158.30 703.76 L159.98 706.67 L161.66 709.69 L163.34 712.82 L165.02 716.06 L166.70 719.41 L168.38 722.86 L170.06 726.43 L171.73 730.10 L173.41 733.88 L175.09 737.76 L176.77 741.76 L178.45 745.86 L180.13 750.06 L181.81 754.37 L183.49 758.79 L185.17 763.32 L186.85 767.96 L188.53 772.70 L190.21 777.55 L191.89 782.50 L193.57 787.57 L195.24 792.74 L196.92 798.03 L198.60 803.42 L200.28 808.92 L201.96 814.54 L203.64 820.27 L205.32 826.11 L207.00 832.06"/>
<clipPath id="c20"><rect x="34.50" y="661.00" width="179.30" height="218.35"/></clipPath><g clip-path="url(#c20)">
<circle cx="119.60" cy="879.15" r="1.75" fill="#000"/>
<circle cx="119.60" cy="865.29" r="1.75" fill="#000"/>
<circle cx="119.60" cy="851.43" r="1.75" fill="#000"/>
<circle cx="119.60" cy="837.57" r="1.75" fill="#000"/>
<circle cx="119.60" cy="823.71" r="1.75" fill="#000"/>
<circle cx="119.60" cy="809.85" r="1.75" fill="#000"/>
<circle cx="119.60" cy="795.99" r="1.75" fill="#000"/>
<circle cx="119.60" cy="782.13" r="1.75" fill="#000"/>
<circle cx="119.60" cy="768.27" r="1.75" fill="#000"/>
<circle cx="119.60" cy="754.41" r="1.75" fill="#000"/>
<circle cx="119.60" cy="740.55" r="1.75" fill="#000"/>
<circle cx="119.60" cy="726.69" r="1.75" fill="#000"/>
<circle cx="119.60" cy="712.83" r="1.75" fill="#000"/>
<circle cx="119.60" cy="698.97" r="1.75" fill="#000"/>
<circle cx="119.60" cy="685.11" r="1.75" fill="#000"/>
</g>
<circle cx="119.60" cy="669.50" r="8.35" fill="#ff0000"/>
<rect x="144.60" y="861.45" width="69.20" height="17.90" fill="#fff"/>
<path class="ax" d="M144.60 879.35 V861.45 H213.80"/>
<circle cx="151.30" cy="870.85" r="1.15" fill="#000"/><circle cx="159.90" cy="870.85" r="1.15" fill="#000"/>
<text class="t" x="209.30" y="872.70" text-anchor="end"><tspan>ρ</tspan><tspan dx="1.3">= 22.6663</tspan></text>
<rect class="ax" x="34.50" y="661.00" width="179.30" height="218.35"/>
<path class="ax" d="M40.60 879.35 v4.8"/>
<text class="t k" x="40.60" y="895.35" text-anchor="middle">16</text>
<path class="ax" d="M64.34 879.35 v4.8"/>
<text class="t k" x="64.34" y="895.35" text-anchor="middle">18</text>
<path class="ax" d="M88.08 879.35 v4.8"/>
<text class="t k" x="88.08" y="895.35" text-anchor="middle">20</text>
<path class="ax" d="M111.82 879.35 v4.8"/>
<text class="t k" x="111.82" y="895.35" text-anchor="middle">22</text>
<path class="ax" d="M135.56 879.35 v4.8"/>
<text class="t k" x="135.56" y="895.35" text-anchor="middle">24</text>
<path class="ax" d="M159.30 879.35 v4.8"/>
<text class="t k" x="159.30" y="895.35" text-anchor="middle">26</text>
<path class="ax" d="M183.04 879.35 v4.8"/>
<text class="t k" x="183.04" y="895.35" text-anchor="middle">28</text>
<path class="ax" d="M206.78 879.35 v4.8"/>
<text class="t k" x="206.78" y="895.35" text-anchor="middle">30</text>
<path class="ax" d="M34.50 672.60 h-4.8"/>
<text class="t k" transform="translate(24.10 672.60) rotate(-90)" text-anchor="middle">−159.0</text>
<path class="ax" d="M34.50 729.00 h-4.8"/>
<text class="t k" transform="translate(24.10 729.00) rotate(-90)" text-anchor="middle">−159.5</text>
<path class="ax" d="M34.50 785.40 h-4.8"/>
<text class="t k" transform="translate(24.10 785.40) rotate(-90)" text-anchor="middle">−160.0</text>
<path class="ax" d="M34.50 841.80 h-4.8"/>
<text class="t k" transform="translate(24.10 841.80) rotate(-90)" text-anchor="middle">−160.5</text>
<text class="t" x="124.15" y="911.35" text-anchor="middle" xml:space="preserve">ρ(ξ = 1.14415  μ = 0.00154)</text>
<text class="t" style="font-size:7.35px" transform="translate(6.20 770.17) rotate(-90)" text-anchor="middle">Profile log−likelihood</text>
</g>
<g>
<path class="cv" d="M274.90 871.48 L276.10 861.54 L277.30 851.98 L278.50 842.79 L279.70 833.95 L280.90 825.45 L282.10 817.28 L283.29 809.43 L284.49 801.89 L285.69 794.65 L286.89 787.70 L288.09 781.02 L289.29 774.62 L290.49 768.48 L291.69 762.59 L292.89 756.94 L294.09 751.54 L295.29 746.36 L296.49 741.41 L297.69 736.67 L298.89 732.15 L300.08 727.83 L301.28 723.70 L302.48 719.77 L303.68 716.03 L304.88 712.46 L306.08 709.07 L307.28 705.85 L308.48 702.80 L309.68 699.91 L310.88 697.18 L312.08 694.60 L313.28 692.16 L314.48 689.87 L315.68 687.73 L316.87 685.72 L318.07 683.84 L319.27 682.09 L320.47 680.47 L321.67 678.97 L322.87 677.59 L324.07 676.32 L325.27 675.17 L326.47 674.14 L327.67 673.20 L328.87 672.38 L330.07 671.66 L331.27 671.03 L332.47 670.51 L333.66 670.08 L334.86 669.74 L336.06 669.50 L337.26 669.34 L338.46 669.27 L339.66 669.28 L340.86 669.38 L342.06 669.55 L343.26 669.81 L344.46 670.14 L345.66 670.54 L346.86 671.02 L348.06 671.57 L349.26 672.19 L350.45 672.88 L351.65 673.64 L352.85 674.46 L354.05 675.34 L355.25 676.29 L356.45 677.29 L357.65 678.36 L358.85 679.48 L360.05 680.66 L361.25 681.89 L362.45 683.18 L363.65 684.52 L364.85 685.92 L366.05 687.36 L367.24 688.85 L368.44 690.39 L369.64 691.98 L370.84 693.61 L372.04 695.29 L373.24 697.01 L374.44 698.78 L375.64 700.58 L376.84 702.43 L378.04 704.32 L379.24 706.24 L380.44 708.21 L381.64 710.21 L382.84 712.25 L384.03 714.32 L385.23 716.42 L386.43 718.56 L387.63 720.73 L388.83 722.94 L390.03 725.17 L391.23 727.44 L392.43 729.73 L393.63 732.06 L394.83 734.41 L396.03 736.79 L397.23 739.19 L398.43 741.62 L399.63 744.07 L400.82 746.55 L402.02 749.06 L403.22 751.58 L404.42 754.13 L405.62 756.70 L406.82 759.29 L408.02 761.90 L409.22 764.52 L410.42 767.17 L411.62 769.84 L412.82 772.52 L414.02 775.22 L415.22 777.94 L416.42 780.67 L417.61 783.41 L418.81 786.18 L420.01 788.95 L421.21 791.74 L422.41 794.54 L423.61 797.35 L424.81 800.18 L426.01 803.01 L427.21 805.86 L428.41 808.71 L429.61 811.57 L430.81 814.45 L432.01 817.33 L433.21 820.22 L434.40 823.11 L435.60 826.01 L436.80 828.92 L438.00 831.83 L439.20 834.75 L440.40 837.67 L441.60 840.60"/>
<clipPath id="c21"><rect x="268.40" y="661.00" width="179.65" height="218.35"/></clipPath><g clip-path="url(#c21)">
<circle cx="338.90" cy="879.15" r="1.75" fill="#000"/>
<circle cx="338.90" cy="865.29" r="1.75" fill="#000"/>
<circle cx="338.90" cy="851.43" r="1.75" fill="#000"/>
<circle cx="338.90" cy="837.57" r="1.75" fill="#000"/>
<circle cx="338.90" cy="823.71" r="1.75" fill="#000"/>
<circle cx="338.90" cy="809.85" r="1.75" fill="#000"/>
<circle cx="338.90" cy="795.99" r="1.75" fill="#000"/>
<circle cx="338.90" cy="782.13" r="1.75" fill="#000"/>
<circle cx="338.90" cy="768.27" r="1.75" fill="#000"/>
<circle cx="338.90" cy="754.41" r="1.75" fill="#000"/>
<circle cx="338.90" cy="740.55" r="1.75" fill="#000"/>
<circle cx="338.90" cy="726.69" r="1.75" fill="#000"/>
<circle cx="338.90" cy="712.83" r="1.75" fill="#000"/>
<circle cx="338.90" cy="698.97" r="1.75" fill="#000"/>
<circle cx="338.90" cy="685.11" r="1.75" fill="#000"/>
</g>
<circle cx="338.90" cy="669.50" r="8.35" fill="#ff0000"/>
<rect x="380.55" y="861.45" width="67.50" height="17.90" fill="#fff"/>
<path class="ax" d="M380.55 879.35 V861.45 H448.05"/>
<circle cx="387.25" cy="870.85" r="1.15" fill="#000"/><circle cx="395.85" cy="870.85" r="1.15" fill="#000"/>
<text class="t" x="444.45" y="872.70" text-anchor="end"><tspan>ξ</tspan><tspan dx="1.3">= 1.14415</tspan></text>
<rect class="ax" x="268.40" y="661.00" width="179.65" height="218.35"/>
<path class="ax" d="M283.40 879.35 v4.8"/>
<text class="t k" x="283.40" y="895.35" text-anchor="middle">0.8</text>
<path class="ax" d="M315.70 879.35 v4.8"/>
<text class="t k" x="315.70" y="895.35" text-anchor="middle">1.0</text>
<path class="ax" d="M348.00 879.35 v4.8"/>
<text class="t k" x="348.00" y="895.35" text-anchor="middle">1.2</text>
<path class="ax" d="M380.30 879.35 v4.8"/>
<text class="t k" x="380.30" y="895.35" text-anchor="middle">1.4</text>
<path class="ax" d="M412.60 879.35 v4.8"/>
<text class="t k" x="412.60" y="895.35" text-anchor="middle">1.6</text>
<path class="ax" d="M444.90 879.35 v4.8"/>
<text class="t k" x="444.90" y="895.35" text-anchor="middle">1.8</text>
<path class="ax" d="M268.40 673.20 h-4.8"/>
<text class="t k" transform="translate(258.00 673.20) rotate(-90)" text-anchor="middle">−160</text>
<path class="ax" d="M268.40 710.14 h-4.8"/>
<text class="t k" transform="translate(258.00 710.14) rotate(-90)" text-anchor="middle">−170</text>
<path class="ax" d="M268.40 747.08 h-4.8"/>
<text class="t k" transform="translate(258.00 747.08) rotate(-90)" text-anchor="middle">−180</text>
<path class="ax" d="M268.40 784.02 h-4.8"/>
<text class="t k" transform="translate(258.00 784.02) rotate(-90)" text-anchor="middle">−190</text>
<path class="ax" d="M268.40 820.96 h-4.8"/>
<text class="t k" transform="translate(258.00 820.96) rotate(-90)" text-anchor="middle">−200</text>
<path class="ax" d="M268.40 857.90 h-4.8"/>
<text class="t k" transform="translate(258.00 857.90) rotate(-90)" text-anchor="middle">−210</text>
<text class="t" x="358.22" y="911.35" text-anchor="middle" xml:space="preserve">ξ(ρ = 22.6663  μ = 0.00154)</text>
<text class="t" style="font-size:7.35px" transform="translate(240.10 770.17) rotate(-90)" text-anchor="middle">Profile log−likelihood</text>
</g>
<g>
<path class="cv" d="M512.30 871.53 L515.37 810.64 L518.51 772.53 L521.64 745.96 L524.78 726.33 L527.92 711.36 L531.05 699.78 L534.19 690.77 L537.32 683.78 L540.46 678.41 L543.60 674.38 L546.73 671.45 L549.87 669.47 L553.00 668.28 L556.14 667.79 L559.28 667.90 L562.41 668.54 L565.55 669.63 L568.68 671.15 L571.82 673.02 L574.96 675.23 L578.09 677.73 L581.23 680.50 L584.36 683.52 L587.50 686.76 L590.64 690.21 L593.77 693.85 L596.91 697.67 L600.04 701.66 L603.18 705.80 L606.32 710.10 L609.45 714.54 L612.59 719.11 L615.72 723.82 L618.86 728.66 L622.00 733.62 L625.13 738.70 L628.27 743.91 L631.40 749.24 L634.54 754.69 L637.68 760.26 L640.81 765.95 L643.95 771.77 L647.08 777.70 L650.22 783.76 L653.36 789.95 L656.49 796.27 L659.63 802.72 L662.76 809.30 L665.90 816.02 L669.04 822.89 L672.17 829.89 L675.60 837.72"/>
<clipPath id="c22"><rect x="502.50" y="661.00" width="179.85" height="218.35"/></clipPath><g clip-path="url(#c22)">
<circle cx="557.40" cy="879.15" r="1.75" fill="#000"/>
<circle cx="557.40" cy="865.29" r="1.75" fill="#000"/>
<circle cx="557.40" cy="851.43" r="1.75" fill="#000"/>
<circle cx="557.40" cy="837.57" r="1.75" fill="#000"/>
<circle cx="557.40" cy="823.71" r="1.75" fill="#000"/>
<circle cx="557.40" cy="809.85" r="1.75" fill="#000"/>
<circle cx="557.40" cy="795.99" r="1.75" fill="#000"/>
<circle cx="557.40" cy="782.13" r="1.75" fill="#000"/>
<circle cx="557.40" cy="768.27" r="1.75" fill="#000"/>
<circle cx="557.40" cy="754.41" r="1.75" fill="#000"/>
<circle cx="557.40" cy="740.55" r="1.75" fill="#000"/>
<circle cx="557.40" cy="726.69" r="1.75" fill="#000"/>
<circle cx="557.40" cy="712.83" r="1.75" fill="#000"/>
<circle cx="557.40" cy="698.97" r="1.75" fill="#000"/>
<circle cx="557.40" cy="685.11" r="1.75" fill="#000"/>
</g>
<circle cx="557.40" cy="669.50" r="8.35" fill="#ff0000"/>
<rect x="614.25" y="861.45" width="68.10" height="17.90" fill="#fff"/>
<path class="ax" d="M614.25 879.35 V861.45 H682.35"/>
<circle cx="620.95" cy="870.85" r="1.15" fill="#000"/><circle cx="629.55" cy="870.85" r="1.15" fill="#000"/>
<text class="t" x="679.15" y="872.70" text-anchor="end"><tspan>μ</tspan><tspan dx="1.3">= 0.00154</tspan></text>
<rect class="ax" x="502.50" y="661.00" width="179.85" height="218.35"/>
<path class="ax" d="M509.10 879.35 v4.8"/>
<text class="t k" x="509.10" y="895.35" text-anchor="middle">0.000</text>
<path class="ax" d="M540.46 879.35 v4.8"/>
<text class="t k" x="540.46" y="895.35" text-anchor="middle">0.001</text>
<path class="ax" d="M571.82 879.35 v4.8"/>
<text class="t k" x="571.82" y="895.35" text-anchor="middle">0.002</text>
<path class="ax" d="M603.18 879.35 v4.8"/>
<text class="t k" x="603.18" y="895.35" text-anchor="middle">0.003</text>
<path class="ax" d="M634.54 879.35 v4.8"/>
<text class="t k" x="634.54" y="895.35" text-anchor="middle">0.004</text>
<path class="ax" d="M665.90 879.35 v4.8"/>
<text class="t k" x="665.90" y="895.35" text-anchor="middle">0.005</text>
<path class="ax" d="M502.50 672.20 h-4.8"/>
<text class="t k" transform="translate(492.10 672.20) rotate(-90)" text-anchor="middle">−160</text>
<path class="ax" d="M502.50 727.97 h-4.8"/>
<text class="t k" transform="translate(492.10 727.97) rotate(-90)" text-anchor="middle">−180</text>
<path class="ax" d="M502.50 783.74 h-4.8"/>
<text class="t k" transform="translate(492.10 783.74) rotate(-90)" text-anchor="middle">−200</text>
<path class="ax" d="M502.50 839.51 h-4.8"/>
<text class="t k" transform="translate(492.10 839.51) rotate(-90)" text-anchor="middle">−220</text>
<text class="t" x="592.42" y="911.35" text-anchor="middle" xml:space="preserve">μ(ρ = 22.6663  ξ = 1.14415)</text>
<text class="t" style="font-size:7.35px" transform="translate(474.20 770.17) rotate(-90)" text-anchor="middle">Profile log−likelihood</text>
</g>
<text class="cap" transform="translate(349.6 288.2) scale(1 1.12)" text-anchor="middle">(a)</text>
<text class="cap" transform="translate(349.6 618.4) scale(1 1.12)" text-anchor="middle">(b)</text>
<text class="cap" transform="translate(349.6 948.6) scale(1 1.12)" text-anchor="middle">(c)</text>
</svg></body></html>
